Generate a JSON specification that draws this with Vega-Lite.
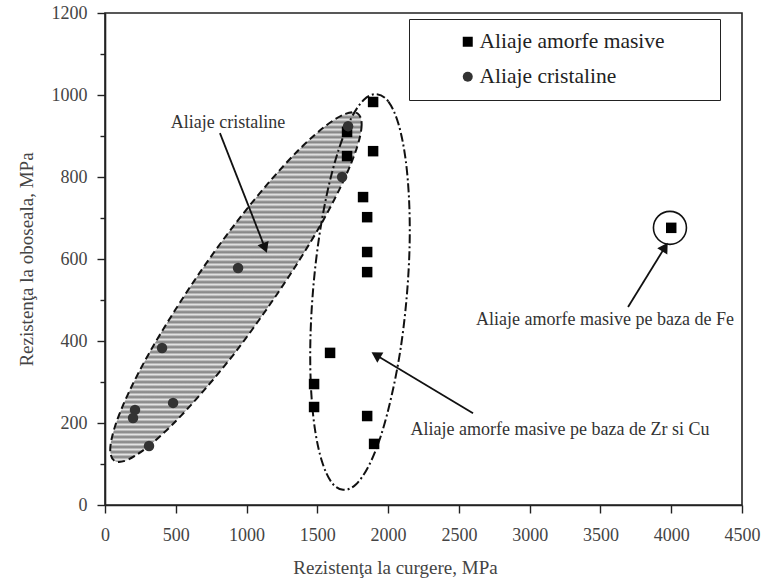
{
  "$schema": "https://vega.github.io/schema/vega-lite/v6.json",
  "width": 637,
  "height": 492,
  "autosize": "none",
  "padding": {"left": 105, "top": 13, "right": 19, "bottom": 77},
  "background": "white",
  "config": {
    "view": {"stroke": "#222", "strokeWidth": 1.6},
    "font": "Liberation Serif",
    "axis": {
      "grid": false,
      "domainColor": "#222",
      "domainWidth": 1.6,
      "tickColor": "#222",
      "tickWidth": 1.4,
      "labelFont": "Liberation Serif",
      "labelFontSize": 18,
      "labelColor": "#444",
      "titleFont": "Liberation Serif",
      "titleFontSize": 19,
      "titleFontWeight": "normal",
      "titleColor": "#444"
    },
    "legend": {
      "labelFont": "Liberation Serif",
      "titleFont": "Liberation Serif"
    }
  },
  "datasets": {
    "pts": [
      {"x": 1894, "y": 983, "tip": "Aliaje amorfe masive"},
      {"x": 1894, "y": 863, "tip": "Aliaje amorfe masive"},
      {"x": 1710, "y": 910, "tip": "Aliaje amorfe masive"},
      {"x": 1710, "y": 851, "tip": "Aliaje amorfe masive"},
      {"x": 1823, "y": 751, "tip": "Aliaje amorfe masive"},
      {"x": 1852, "y": 702, "tip": "Aliaje amorfe masive"},
      {"x": 1852, "y": 617, "tip": "Aliaje amorfe masive"},
      {"x": 1852, "y": 568, "tip": "Aliaje amorfe masive"},
      {"x": 1590, "y": 371, "tip": "Aliaje amorfe masive"},
      {"x": 1477, "y": 295, "tip": "Aliaje amorfe masive"},
      {"x": 1477, "y": 239, "tip": "Aliaje amorfe masive"},
      {"x": 1852, "y": 217, "tip": "Aliaje amorfe masive"},
      {"x": 1901, "y": 149, "tip": "Aliaje amorfe masive"},
      {"x": 4000, "y": 676, "tip": "Aliaje amorfe masive"},
      {"x": 1717, "y": 924, "tip": "Aliaje cristaline"},
      {"x": 1675, "y": 800, "tip": "Aliaje cristaline"},
      {"x": 940, "y": 578, "tip": "Aliaje cristaline"},
      {"x": 403, "y": 383, "tip": "Aliaje cristaline"},
      {"x": 212, "y": 232, "tip": "Aliaje cristaline"},
      {"x": 198, "y": 212, "tip": "Aliaje cristaline"},
      {"x": 481, "y": 249, "tip": "Aliaje cristaline"},
      {"x": 311, "y": 144, "tip": "Aliaje cristaline"}
    ],
    "ellC": [
      {"i": 0, "x": 1785, "y": 955}, {"i": 1, "x": 1813, "y": 927}, {"i": 2, "x": 1780, "y": 872},
      {"i": 3, "x": 1688, "y": 793}, {"i": 4, "x": 1546, "y": 697}, {"i": 5, "x": 1360, "y": 590},
      {"i": 6, "x": 1145, "y": 479}, {"i": 7, "x": 915, "y": 370}, {"i": 8, "x": 685, "y": 274},
      {"i": 9, "x": 473, "y": 195}, {"i": 10, "x": 291, "y": 139}, {"i": 11, "x": 152, "y": 109},
      {"i": 12, "x": 66, "y": 108}, {"i": 13, "x": 37, "y": 136}, {"i": 14, "x": 71, "y": 192},
      {"i": 15, "x": 162, "y": 270}, {"i": 16, "x": 305, "y": 366}, {"i": 17, "x": 491, "y": 473},
      {"i": 18, "x": 706, "y": 585}, {"i": 19, "x": 936, "y": 693}, {"i": 20, "x": 1166, "y": 790},
      {"i": 21, "x": 1377, "y": 869}, {"i": 22, "x": 1560, "y": 925}, {"i": 23, "x": 1699, "y": 954}
    ],
    "ellA": [
      {"i": 0, "x": 1921, "y": 1002}, {"i": 1, "x": 2002, "y": 984}, {"i": 2, "x": 2070, "y": 933},
      {"i": 3, "x": 2119, "y": 854}, {"i": 4, "x": 2147, "y": 752}, {"i": 5, "x": 2152, "y": 635},
      {"i": 6, "x": 2132, "y": 510}, {"i": 7, "x": 2090, "y": 385}, {"i": 8, "x": 2027, "y": 270},
      {"i": 9, "x": 1951, "y": 171}, {"i": 10, "x": 1864, "y": 96}, {"i": 11, "x": 1772, "y": 50},
      {"i": 12, "x": 1682, "y": 37}, {"i": 13, "x": 1601, "y": 55}, {"i": 14, "x": 1533, "y": 106},
      {"i": 15, "x": 1483, "y": 185}, {"i": 16, "x": 1455, "y": 287}, {"i": 17, "x": 1451, "y": 404},
      {"i": 18, "x": 1471, "y": 529}, {"i": 19, "x": 1513, "y": 654}, {"i": 20, "x": 1575, "y": 770},
      {"i": 21, "x": 1652, "y": 868}, {"i": 22, "x": 1739, "y": 943}, {"i": 23, "x": 1831, "y": 989}
    ],
    "arrows": [
      {"id": "c", "x": 812, "y": 907, "x2": 1130, "y2": 627},
      {"id": "fe", "x": 3695, "y": 483, "x2": 3956, "y2": 629},
      {"id": "zr", "x": 2600, "y": 224, "x2": 1914, "y2": 366}
    ],
    "labels": [
      {"x": 869, "y": 932, "text": "Aliaje cristaline"},
      {"x": 3532, "y": 451, "text": "Aliaje amorfe masive pe baza de Fe"},
      {"x": 3214, "y": 183, "text": "Aliaje amorfe masive pe baza de Zr si Cu"}
    ],
    "fe": [{"x": 3991, "y": 676}]
  },
  "layer": [
    {
      "data": {"name": "ellC"},
      "mark": {
        "type": "line",
        "interpolate": "cardinal-closed",
        "stroke": "#111",
        "strokeWidth": 2,
        "strokeDash": [7, 4],
        "fill": {
          "gradient": "linear", "x1": 0, "y1": 0, "x2": 0, "y2": 1,
          "stops": [
            {"offset": 0, "color": "#7a7a7a"}, {"offset": 0.0071, "color": "#e4e4e4"}, {"offset": 0.0143, "color": "#7a7a7a"}, {"offset": 0.0214, "color": "#e4e4e4"}, {"offset": 0.0286, "color": "#7a7a7a"}, {"offset": 0.0357, "color": "#e4e4e4"}, {"offset": 0.0429, "color": "#7a7a7a"}, {"offset": 0.05, "color": "#e4e4e4"}, {"offset": 0.0571, "color": "#7a7a7a"}, {"offset": 0.0643, "color": "#e4e4e4"}, {"offset": 0.0714, "color": "#7a7a7a"}, {"offset": 0.0786, "color": "#e4e4e4"}, {"offset": 0.0857, "color": "#7a7a7a"}, {"offset": 0.0929, "color": "#e4e4e4"},
            {"offset": 0.1, "color": "#7a7a7a"}, {"offset": 0.1071, "color": "#e4e4e4"}, {"offset": 0.1143, "color": "#7a7a7a"}, {"offset": 0.1214, "color": "#e4e4e4"}, {"offset": 0.1286, "color": "#7a7a7a"}, {"offset": 0.1357, "color": "#e4e4e4"}, {"offset": 0.1429, "color": "#7a7a7a"}, {"offset": 0.15, "color": "#e4e4e4"}, {"offset": 0.1571, "color": "#7a7a7a"}, {"offset": 0.1643, "color": "#e4e4e4"}, {"offset": 0.1714, "color": "#7a7a7a"}, {"offset": 0.1786, "color": "#e4e4e4"}, {"offset": 0.1857, "color": "#7a7a7a"}, {"offset": 0.1929, "color": "#e4e4e4"},
            {"offset": 0.2, "color": "#7a7a7a"}, {"offset": 0.2071, "color": "#e4e4e4"}, {"offset": 0.2143, "color": "#7a7a7a"}, {"offset": 0.2214, "color": "#e4e4e4"}, {"offset": 0.2286, "color": "#7a7a7a"}, {"offset": 0.2357, "color": "#e4e4e4"}, {"offset": 0.2429, "color": "#7a7a7a"}, {"offset": 0.25, "color": "#e4e4e4"}, {"offset": 0.2571, "color": "#7a7a7a"}, {"offset": 0.2643, "color": "#e4e4e4"}, {"offset": 0.2714, "color": "#7a7a7a"}, {"offset": 0.2786, "color": "#e4e4e4"}, {"offset": 0.2857, "color": "#7a7a7a"}, {"offset": 0.2929, "color": "#e4e4e4"},
            {"offset": 0.3, "color": "#7a7a7a"}, {"offset": 0.3071, "color": "#e4e4e4"}, {"offset": 0.3143, "color": "#7a7a7a"}, {"offset": 0.3214, "color": "#e4e4e4"}, {"offset": 0.3286, "color": "#7a7a7a"}, {"offset": 0.3357, "color": "#e4e4e4"}, {"offset": 0.3429, "color": "#7a7a7a"}, {"offset": 0.35, "color": "#e4e4e4"}, {"offset": 0.3571, "color": "#7a7a7a"}, {"offset": 0.3643, "color": "#e4e4e4"}, {"offset": 0.3714, "color": "#7a7a7a"}, {"offset": 0.3786, "color": "#e4e4e4"}, {"offset": 0.3857, "color": "#7a7a7a"}, {"offset": 0.3929, "color": "#e4e4e4"},
            {"offset": 0.4, "color": "#7a7a7a"}, {"offset": 0.4071, "color": "#e4e4e4"}, {"offset": 0.4143, "color": "#7a7a7a"}, {"offset": 0.4214, "color": "#e4e4e4"}, {"offset": 0.4286, "color": "#7a7a7a"}, {"offset": 0.4357, "color": "#e4e4e4"}, {"offset": 0.4429, "color": "#7a7a7a"}, {"offset": 0.45, "color": "#e4e4e4"}, {"offset": 0.4571, "color": "#7a7a7a"}, {"offset": 0.4643, "color": "#e4e4e4"}, {"offset": 0.4714, "color": "#7a7a7a"}, {"offset": 0.4786, "color": "#e4e4e4"}, {"offset": 0.4857, "color": "#7a7a7a"}, {"offset": 0.4929, "color": "#e4e4e4"},
            {"offset": 0.5, "color": "#7a7a7a"}, {"offset": 0.5071, "color": "#e4e4e4"}, {"offset": 0.5143, "color": "#7a7a7a"}, {"offset": 0.5214, "color": "#e4e4e4"}, {"offset": 0.5286, "color": "#7a7a7a"}, {"offset": 0.5357, "color": "#e4e4e4"}, {"offset": 0.5429, "color": "#7a7a7a"}, {"offset": 0.55, "color": "#e4e4e4"}, {"offset": 0.5571, "color": "#7a7a7a"}, {"offset": 0.5643, "color": "#e4e4e4"}, {"offset": 0.5714, "color": "#7a7a7a"}, {"offset": 0.5786, "color": "#e4e4e4"}, {"offset": 0.5857, "color": "#7a7a7a"}, {"offset": 0.5929, "color": "#e4e4e4"},
            {"offset": 0.6, "color": "#7a7a7a"}, {"offset": 0.6071, "color": "#e4e4e4"}, {"offset": 0.6143, "color": "#7a7a7a"}, {"offset": 0.6214, "color": "#e4e4e4"}, {"offset": 0.6286, "color": "#7a7a7a"}, {"offset": 0.6357, "color": "#e4e4e4"}, {"offset": 0.6429, "color": "#7a7a7a"}, {"offset": 0.65, "color": "#e4e4e4"}, {"offset": 0.6571, "color": "#7a7a7a"}, {"offset": 0.6643, "color": "#e4e4e4"}, {"offset": 0.6714, "color": "#7a7a7a"}, {"offset": 0.6786, "color": "#e4e4e4"}, {"offset": 0.6857, "color": "#7a7a7a"}, {"offset": 0.6929, "color": "#e4e4e4"},
            {"offset": 0.7, "color": "#7a7a7a"}, {"offset": 0.7071, "color": "#e4e4e4"}, {"offset": 0.7143, "color": "#7a7a7a"}, {"offset": 0.7214, "color": "#e4e4e4"}, {"offset": 0.7286, "color": "#7a7a7a"}, {"offset": 0.7357, "color": "#e4e4e4"}, {"offset": 0.7429, "color": "#7a7a7a"}, {"offset": 0.75, "color": "#e4e4e4"}, {"offset": 0.7571, "color": "#7a7a7a"}, {"offset": 0.7643, "color": "#e4e4e4"}, {"offset": 0.7714, "color": "#7a7a7a"}, {"offset": 0.7786, "color": "#e4e4e4"}, {"offset": 0.7857, "color": "#7a7a7a"}, {"offset": 0.7929, "color": "#e4e4e4"},
            {"offset": 0.8, "color": "#7a7a7a"}, {"offset": 0.8071, "color": "#e4e4e4"}, {"offset": 0.8143, "color": "#7a7a7a"}, {"offset": 0.8214, "color": "#e4e4e4"}, {"offset": 0.8286, "color": "#7a7a7a"}, {"offset": 0.8357, "color": "#e4e4e4"}, {"offset": 0.8429, "color": "#7a7a7a"}, {"offset": 0.85, "color": "#e4e4e4"}, {"offset": 0.8571, "color": "#7a7a7a"}, {"offset": 0.8643, "color": "#e4e4e4"}, {"offset": 0.8714, "color": "#7a7a7a"}, {"offset": 0.8786, "color": "#e4e4e4"}, {"offset": 0.8857, "color": "#7a7a7a"}, {"offset": 0.8929, "color": "#e4e4e4"},
            {"offset": 0.9, "color": "#7a7a7a"}, {"offset": 0.9071, "color": "#e4e4e4"}, {"offset": 0.9143, "color": "#7a7a7a"}, {"offset": 0.9214, "color": "#e4e4e4"}, {"offset": 0.9286, "color": "#7a7a7a"}, {"offset": 0.9357, "color": "#e4e4e4"}, {"offset": 0.9429, "color": "#7a7a7a"}, {"offset": 0.95, "color": "#e4e4e4"}, {"offset": 0.9571, "color": "#7a7a7a"}, {"offset": 0.9643, "color": "#e4e4e4"}, {"offset": 0.9714, "color": "#7a7a7a"}, {"offset": 0.9786, "color": "#e4e4e4"}, {"offset": 0.9857, "color": "#7a7a7a"}, {"offset": 0.9929, "color": "#e4e4e4"},
            {"offset": 1, "color": "#7a7a7a"}
          ]
        }
      },
      "encoding": {
        "x": {"field": "x", "type": "quantitative", "scale": {"domain": [0, 4500], "nice": false, "zero": false},
          "axis": {
            "values": [0, 250, 500, 750, 1000, 1250, 1500, 1750, 2000, 2250, 2500, 2750, 3000, 3250, 3500, 3750, 4000, 4250, 4500],
            "labelExpr": "datum.value % 500 === 0 ? datum.label : ''",
            "format": "d",
            "tickSize": {"condition": {"test": "datum.value % 500 === 0", "value": 8}, "value": 4},
            "labelPadding": 13,
            "labelFlush": false,
            "labelOverlap": false,
            "title": "Rezistenţa la curgere, MPa",
            "titlePadding": 14,
            "titleX": 290
          }
        },
        "y": {"field": "y", "type": "quantitative", "scale": {"domain": [0, 1200], "nice": false, "zero": false},
          "axis": {
            "values": [0, 100, 200, 300, 400, 500, 600, 700, 800, 900, 1000, 1100, 1200],
            "labelExpr": "datum.value % 200 === 0 ? datum.label : ''",
            "format": "d",
            "tickSize": {"condition": {"test": "datum.value % 200 === 0", "value": 8}, "value": 5},
            "labelPadding": 10,
            "labelFlush": false,
            "labelOverlap": false,
            "title": "Rezistenţa la oboseala, MPa",
            "titlePadding": 15
          }
        },
        "order": {"field": "i", "type": "quantitative"}
      }
    },
    {
      "data": {"name": "ellA"},
      "mark": {"type": "line", "interpolate": "cardinal-closed", "stroke": "#111", "strokeWidth": 2, "strokeDash": [9, 3, 2, 3]},
      "encoding": {
        "x": {"field": "x", "type": "quantitative"},
        "y": {"field": "y", "type": "quantitative"},
        "order": {"field": "i", "type": "quantitative"}
      }
    },
    {
      "data": {"name": "pts"},
      "mark": {"type": "point", "filled": true, "opacity": 1, "size": 110},
      "encoding": {
        "x": {"field": "x", "type": "quantitative"},
        "y": {"field": "y", "type": "quantitative"},
        "shape": {"field": "tip", "type": "nominal",
          "scale": {"domain": ["Aliaje amorfe masive", "Aliaje cristaline"], "range": ["square", "circle"]},
          "legend": {
            "title": "\u00a0",
            "titleOrient": "right",
            "titleFontSize": 10,
            "titlePadding": 43,
            "orient": "none",
            "legendX": 304,
            "legendY": 6,
            "strokeColor": "#222",
            "fillColor": "white",
            "padding": 12,
            "symbolOffset": 36,
            "symbolSize": 100,
            "symbolStrokeWidth": 0,
            "labelFont": "Liberation Serif",
            "labelFontSize": 21.5,
            "labelColor": "#222",
            "labelOffset": 1,
            "rowPadding": 12,
            "labelLimit": 300
          }
        },
        "color": {"field": "tip", "type": "nominal",
          "scale": {"domain": ["Aliaje amorfe masive", "Aliaje cristaline"], "range": ["#000000", "#333333"]},
          "legend": {
            "title": "\u00a0",
            "titleOrient": "right",
            "titleFontSize": 10,
            "titlePadding": 43,
            "orient": "none",
            "legendX": 304,
            "legendY": 6,
            "strokeColor": "#222",
            "fillColor": "white",
            "padding": 12,
            "symbolOffset": 36,
            "symbolSize": 100,
            "symbolStrokeWidth": 0,
            "labelFont": "Liberation Serif",
            "labelFontSize": 21.5,
            "labelColor": "#222",
            "labelOffset": 1,
            "rowPadding": 12,
            "labelLimit": 300
          }
        }
      }
    },
    {
      "data": {"name": "arrows"},
      "mark": {"type": "rule", "stroke": "#111", "strokeWidth": 1.8},
      "encoding": {
        "x": {"field": "x", "type": "quantitative"},
        "y": {"field": "y", "type": "quantitative"},
        "x2": {"field": "x2"},
        "y2": {"field": "y2"}
      }
    },
    {
      "data": {"name": "arrows"},
      "transform": [{"filter": "datum.id === 'c'"}],
      "mark": {"type": "point", "shape": "triangle-up", "filled": true, "color": "#111", "opacity": 1, "size": 140, "angle": 158.6},
      "encoding": {"x": {"field": "x2", "type": "quantitative"}, "y": {"field": "y2", "type": "quantitative"}}
    },
    {
      "data": {"name": "arrows"},
      "transform": [{"filter": "datum.id === 'fe'"}],
      "mark": {"type": "point", "shape": "triangle-up", "filled": true, "color": "#111", "opacity": 1, "size": 140, "angle": 32},
      "encoding": {"x": {"field": "x2", "type": "quantitative"}, "y": {"field": "y2", "type": "quantitative"}}
    },
    {
      "data": {"name": "arrows"},
      "transform": [{"filter": "datum.id === 'zr'"}],
      "mark": {"type": "point", "shape": "triangle-up", "filled": true, "color": "#111", "opacity": 1, "size": 140, "angle": 300.7},
      "encoding": {"x": {"field": "x2", "type": "quantitative"}, "y": {"field": "y2", "type": "quantitative"}}
    },
    {
      "data": {"name": "fe"},
      "mark": {"type": "point", "shape": "circle", "filled": false, "stroke": "#111", "strokeWidth": 1.6, "opacity": 1, "size": 1089},
      "encoding": {"x": {"field": "x", "type": "quantitative"}, "y": {"field": "y", "type": "quantitative"}}
    },
    {
      "data": {"name": "labels"},
      "mark": {"type": "text", "font": "Liberation Serif", "fontSize": 18, "color": "#333", "align": "center", "baseline": "middle"},
      "encoding": {
        "x": {"field": "x", "type": "quantitative"},
        "y": {"field": "y", "type": "quantitative"},
        "text": {"field": "text"}
      }
    }
  ]
}
